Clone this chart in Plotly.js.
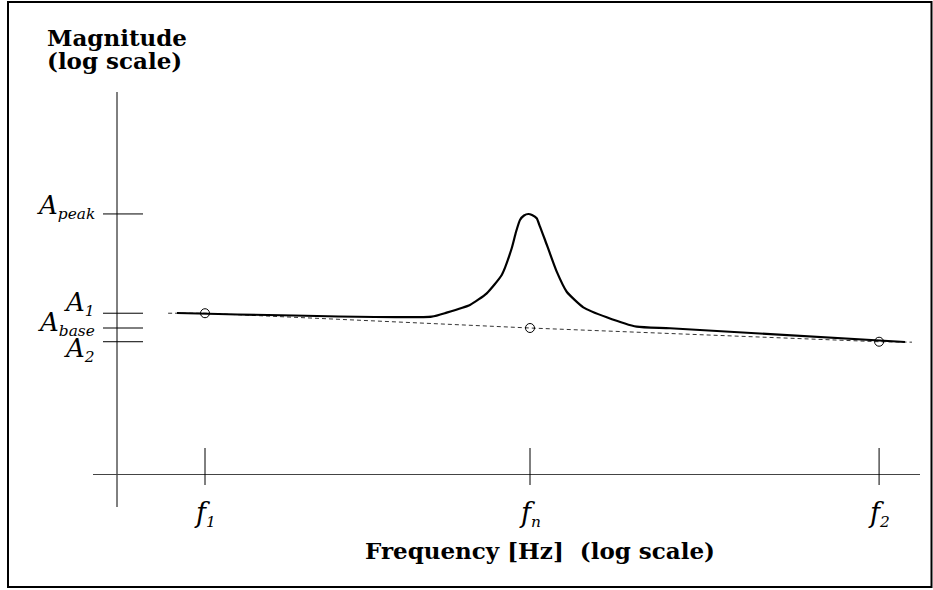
<!DOCTYPE html>
<html>
<head>
<meta charset="utf-8">
<script src="https://cdn.plot.ly/plotly-3.0.1.min.js"></script>
<style>html,body{margin:0;padding:0;background:#fff;}#chart{width:933px;height:590px;}</style>
</head>
<body>
<div id="chart"></div>
<script>
// ---- data (frequency in Hz, magnitude in arbitrary units; both log scale) ----
const curveFreq = [16.4, 99.7, 110.8, 130.7, 147.2, 163.7, 175.7, 181.1, 186.3, 191.7, 197.6, 202.9, 209.7, 214.7, 222.5, 241.7, 259.4, 291.8, 344.4, 426.1, 539.3, 2850];
const curveMag  = [1.122, 1.091, 1.125, 1.193, 1.305, 1.502, 1.844, 2.089, 2.291, 2.371, 2.399, 2.380, 2.321, 2.176, 1.965, 1.541, 1.321, 1.172, 1.086, 1.010, 0.998, 0.898];
const baseFreq = [15.4, 20, 200, 2372, 2995];
const baseMag  = [1.12, 1.12, 1.00, 0.90, 0.897];
const markFreq = [20, 200, 2372];
const markMag  = [1.12, 1.00, 0.90];
const xTickVals = [20, 200, 2372];
const xTickText = ['1', 'n', '2'];
const yTickVals = [2.40, 1.12, 1.00, 0.90];
const yTickText = ['peak', '1', 'base', '2'];

// ---- layout helpers ----
const W = 933, H = 590;
const px = p => p / W;
const py = p => 1 - p / H;

const traces = [
  {x: baseFreq, y: baseMag, mode: 'lines', line: {color: '#333', width: 1, dash: '4px,3px'}, hoverinfo: 'skip'},
  {x: curveFreq, y: curveMag, mode: 'lines', line: {color: '#000', width: 2.2, shape: 'spline', smoothing: 0.5}, hoverinfo: 'skip'},
  {x: markFreq, y: markMag, mode: 'markers', marker: {symbol: 'circle-open', size: 9, color: '#000', line: {width: 1, color: '#000'}}, hoverinfo: 'skip'}
];

const shapes = [
  {type: 'rect', xref: 'paper', yref: 'paper', x0: px(8), x1: px(931.5), y0: py(587), y1: py(2), line: {color: '#000', width: 2}},
  {type: 'line', xref: 'paper', yref: 'paper', x0: px(117), x1: px(117), y0: py(507), y1: py(92), line: {color: '#000', width: 1}},
  {type: 'line', xref: 'paper', yref: 'paper', x0: px(93), x1: px(920), y0: py(474.5), y1: py(474.5), line: {color: '#444', width: 1}}
];
xTickVals.forEach(v => shapes.push({type: 'line', xref: 'x', yref: 'paper', x0: v, x1: v, y0: py(448), y1: py(485), line: {color: '#000', width: 1}}));
yTickVals.forEach(v => shapes.push({type: 'line', xref: 'paper', yref: 'y', x0: px(103), x1: px(143), y0: v, y1: v, line: {color: '#000', width: 1}}));

const serif = 'DejaVu Serif';
const labelFont = {family: serif, size: 22, color: '#000'};
const yLabelShift = [7, 10, 5, -8];
const annotations = [];
yTickVals.forEach((v, i) => annotations.push({
  xref: 'paper', yref: 'y', x: px(97), y: Math.log10(v), xanchor: 'right', yanchor: 'middle',
  yshift: yLabelShift[i], showarrow: false, font: labelFont,
  text: '<i><span style="font-size:26px">A</span></i><sub><i>' + yTickText[i] + '</i></sub>'
}));
xTickVals.forEach((v, i) => annotations.push({
  xref: 'x', yref: 'paper', x: Math.log10(v), y: py(495), xanchor: 'center', yanchor: 'top',
  showarrow: false, font: {family: serif, size: 22, color: '#000'},
  text: '<i><span style="font-size:27px">f</span></i><sub><i>' + xTickText[i] + '</i></sub>'
}));
const titleFont = {family: 'DejaVu Serif', size: 23, color: '#000', weight: 'bold'};
annotations.push({xref: 'paper', yref: 'paper', x: px(45), y: py(22), xanchor: 'left', yanchor: 'top', showarrow: false, font: titleFont, text: '<b>Magnitude</b>'});
annotations.push({xref: 'paper', yref: 'paper', x: px(45), y: py(45), xanchor: 'left', yanchor: 'top', showarrow: false, font: titleFont, text: '<b>(log scale)</b>'});
annotations.push({xref: 'paper', yref: 'paper', x: px(540), y: py(550), xanchor: 'center', yanchor: 'middle', showarrow: false, font: titleFont, text: '<b>Frequency [Hz]\u00a0 (log scale)</b>'});

const layout = {
  width: W, height: H,
  margin: {l: 0, r: 0, t: 0, b: 0},
  paper_bgcolor: '#fff', plot_bgcolor: '#fff',
  showlegend: false,
  xaxis: {type: 'log', range: [0.67026, 3.54103], visible: false, fixedrange: true},
  yaxis: {type: 'log', range: [-0.87333, 1.09333], visible: false, fixedrange: true},
  shapes: shapes,
  annotations: annotations
};

Plotly.newPlot('chart', traces, layout, {staticPlot: true, displayModeBar: false});
</script>
</body>
</html>
